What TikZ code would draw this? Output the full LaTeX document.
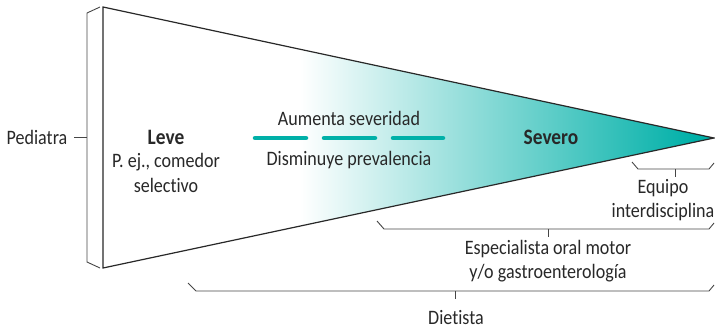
\documentclass[tikz,border=0pt]{standalone}
\usepackage{fontspec}
\setmainfont[FakeStretch=0.88,Ligatures=NoCommon]{Carlito}
\definecolor{teal1}{RGB}{0,176,168}
\definecolor{txt}{RGB}{40,40,40}
\definecolor{brk}{RGB}{70,70,70}
\begin{document}
\begin{tikzpicture}[x=1pt,y=-1pt,
  lbl/.style={inner sep=0pt,text=txt,font=\fontsize{20.5}{24.5}\selectfont,align=center},
  bold/.style={font=\fontsize{22}{24.5}\selectfont\bfseries},
  bracket/.style={draw=brk,line width=0.9pt,line join=miter},
  tick/.style={draw=brk,line width=0.9pt},
  dashbar/.style={draw=teal1,line width=4.5pt,line cap=round}]
\useasboundingbox (0,0) rectangle (715,330);
% triangle with gradient
\coordinate (tl) at (103,7);
\coordinate (bl) at (103,268);
\coordinate (apex) at (714,138);
\begin{scope}
  \clip (tl) -- (apex) -- (bl) -- cycle;
  \fill[white] (100,0) rectangle (300,330);
  \shade[left color=white,right color=teal1] (300,0) rectangle (695,330);
  \fill[teal1] (694.5,0) rectangle (716,330);
\end{scope}
\draw[txt,line width=1.2pt,line join=miter] (tl) -- (apex) -- (bl) -- cycle;
% Pediatra bracket
\draw[bracket] (100,7) -- (87,13) -- (87,262) -- (100,268);
\node[lbl] (ped) at (37,137) {Pediatra};
\coordinate (pedA) at (74,137);
\coordinate (pedB) at (87,137);
\draw[tick] (pedA) -- (pedB);
% texts inside
\node[lbl,bold] (leve) at (166,137) {Leve};
\node[lbl] (leve2) at (166,173) {P. ej., comedor\\selectivo};
\node[lbl] (aum) at (349,118) {Aumenta severidad};
\node[lbl] (dis) at (349,160) {Disminuye prevalencia};
\node[lbl,bold] (sev) at (551,137) {Severo};
\coordinate (d1a) at (255,138); \coordinate (d1b) at (306,138);
\coordinate (d2a) at (324,138); \coordinate (d2b) at (375,138);
\coordinate (d3a) at (393,138); \coordinate (d3b) at (443,138);
\draw[dashbar] (d1a) -- (d1b);
\draw[dashbar] (d2a) -- (d2b);
\draw[dashbar] (d3a) -- (d3b);
% Equipo bracket
\draw[bracket] (632,162) -- (638,169) -- (709,169) -- (714,163);
\coordinate (eqT) at (675,169);
\draw[tick] (eqT) -- ++(0,8);
\node[lbl] (eq) at (663,200) {Equipo\\interdisciplina};
% Especialista bracket
\draw[bracket] (377,221) -- (384,229) -- (709,229) -- (714,223);
\coordinate (esT) at (548,229);
\draw[tick] (esT) -- ++(0,8);
\node[lbl] (es) at (548,261) {Especialista oral motor\\y/o gastroenterología};
% Dietista bracket
\draw[bracket] (188,283) -- (196,291) -- (709,291) -- (714,285);
\coordinate (diT) at (455,291);
\draw[tick] (diT) -- ++(0,8);
\node[lbl] (di) at (456,318) {Dietista};
\end{tikzpicture}
\end{document}
